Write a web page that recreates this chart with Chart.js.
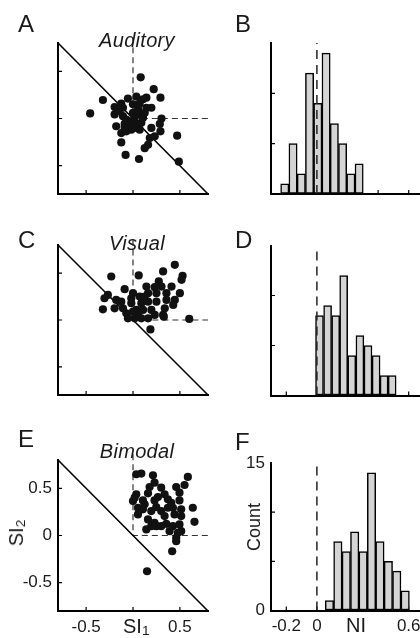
<!DOCTYPE html>
<html>
<head>
<meta charset="utf-8">
<script src="https://cdn.jsdelivr.net/npm/chart.js@4"></script>
<style>
  html, body { margin:0; padding:0; background:#fff; overflow:hidden; }
  #wrap { position:relative; width:420px; height:638px; overflow:hidden; background:#fff; }
  canvas { position:absolute; left:0; top:0; }
  .t { position:absolute; font-family:'Liberation Sans', Arial, sans-serif; color:#1a1a1a; line-height:1; white-space:nowrap; }
  .let { font-size:24px; }
  .ttl { font-size:20px; font-style:italic; width:160px; text-align:center; letter-spacing:0.3px; }
  .rot { transform:translate(-50%,-50%) rotate(-90deg); }
  .sb { font-size:0.68em; position:relative; top:0.12em; }
</style>
</head>
<body>
<div id="wrap">
  <canvas id="cA" width="430" height="638"></canvas>
  <canvas id="cB" width="430" height="638"></canvas>
  <canvas id="cC" width="430" height="638"></canvas>
  <canvas id="cD" width="430" height="638"></canvas>
  <canvas id="cE" width="430" height="638"></canvas>
  <canvas id="cF" width="430" height="638"></canvas>

  <div class="t let" style="left:18px;top:12px">A</div>
  <div class="t let" style="left:235px;top:12px">B</div>
  <div class="t let" style="left:18px;top:228px">C</div>
  <div class="t let" style="left:235px;top:228px">D</div>
  <div class="t let" style="left:18px;top:427px">E</div>
  <div class="t let" style="left:235px;top:430px">F</div>

  <div class="t ttl" style="left:57px;top:30px">Auditory</div>
  <div class="t ttl" style="left:57px;top:233px">Visual</div>
  <div class="t ttl" style="left:57px;top:441px">Bimodal</div>

  <div class="t" style="left:123px;top:616px;font-size:20px">SI<span class="sb">1</span></div>
  <div class="t rot" style="left:16px;top:533px;font-size:20px">SI<span class="sb">2</span></div>
  <div class="t rot" style="left:254px;top:527px;font-size:18px">Count</div>
  <div class="t" style="left:346px;top:615px;font-size:20px">NI</div>
</div>
<script>
// ---------- data ----------
const audSI1 = [0.082,0.221,0.293,-0.321,-0.457,-0.054,0.036,0.107,-0.125,-0.196,-0.107,0.071,0.143,0.196,-0.196,-0.107,0,0.071,0.304,0.286,-0.179,-0.089,-0.018,0.036,0.089,0.196,-0.125,-0.018,0.071,0.293,0.471,0.179,-0.125,0.161,0.125,-0.079,0.064,0.489,-0.036,0.018,-0.071,-0.143,0.054,0.018,0.107,0.143,-0.036,-0.071,0.125,0,0.232,-0.089];
const audSI2 = [0.436,0.311,0.221,0.196,0.054,0.211,0.232,0.204,0.157,0.121,0.114,0.157,0.114,0.114,0.043,0.025,0.061,0.043,0,-0.057,-0.082,-0.057,-0.029,-0.057,-0.046,-0.1,-0.154,-0.118,-0.118,-0.136,-0.182,-0.207,-0.254,-0.279,-0.314,-0.386,-0.429,-0.457,-0.082,-0.1,-0.136,0.079,0.096,0.007,0.007,0.221,-0.046,-0.011,0.061,0.15,-0.189,-0.1];

const visSI1 = [0.446,-0.232,0.061,0.321,0.529,0.518,0.275,0.304,0.411,-0.089,0.143,-0.268,-0.304,-0.179,-0.125,0,-0.018,0.071,0.161,0.25,0.357,0.5,0.446,0.357,0.25,0.161,0.089,-0.018,-0.321,-0.196,-0.071,0.036,0.107,0.196,0.339,0.321,0.232,-0.054,0.018,0.089,0.161,0.6,0.186,0.232,0.429,0.054,-0.107,0,0.125,0.329];
const visSI2 = [0.589,0.464,0.475,0.518,0.471,0.429,0.411,0.357,0.357,0.329,0.357,0.268,0.232,0.214,0.196,0.286,0.232,0.25,0.286,0.286,0.286,0.286,0.214,0.214,0.196,0.196,0.179,0.179,0.114,0.125,0.071,0.107,0.107,0.107,0.125,0.054,0.054,0.018,0.018,0.018,0.018,0.011,-0.1,0.35,0.161,0.054,0.125,0.089,0.25,0.036];

const bimSI1 = [0.035,0.089,0.213,0.585,0.230,0.55,0.177,0.301,0.461,0.035,0.160,0.337,0.496,0,0.106,0.230,0.372,0.496,0.053,0.248,0.372,0.514,0.638,0.053,0.443,0.514,0.160,0.230,0.355,0.656,0.142,0.248,0.301,0.426,0.496,0.514,0.461,0.461,0.418,0.150,0.301,0.337,0.195,0.124,0.426,0.195,0.390,0.106,0.018,0.479,0.266,0.408];
const bimSI2 = [0.649,0.656,0.638,0.621,0.560,0.535,0.514,0.507,0.514,0.436,0.447,0.436,0.454,0.365,0.372,0.372,0.383,0.372,0.294,0.301,0.294,0.277,0.294,0.223,0.223,0.206,0.170,0.135,0.124,0.145,0.064,0.099,0.099,0.099,0.117,0.046,-0.025,-0.06,-0.167,-0.379,0.259,0.206,0.259,0.330,0.294,0.099,0.046,0.277,0.401,0.028,0.408,0.347];

const audBins = [-0.21,-0.156,-0.102,-0.048,0.006,0.06,0.114,0.168,0.222,0.276];
const audCounts = [1,5,2,12,9,14,7,5,2,3];
const visBins = [0.017,0.07,0.123,0.175,0.228,0.281,0.334,0.387,0.439,0.492];
const visCounts = [8,9,8,12,4,6,5,4,2,2];
const bimBins = [0.082,0.137,0.192,0.247,0.302,0.357,0.412,0.467,0.522,0.577];
const bimCounts = [1,7,6,8,6,14,7,5,4,2];

const siTicks = [-0.5, 0, 0.5];
const siTickLabels = [-0.5, 0.5];
const niTicks = [-0.2, 0, 0.2, 0.4, 0.6];
const niTickLabels = [-0.2, 0, 0.6];
const countTicks = [5, 10];
const countTickLabels = [0, 15];

// ---------- helpers ----------
const FONT = "'Liberation Sans', Arial, sans-serif";
Chart.defaults.font.family = FONT;
Chart.defaults.color = '#1a1a1a';

const inTicks = {
  id: 'inTicks',
  beforeDatasetsDraw(chart, args, opts) {
    const {ctx, chartArea: a, scales: {x, y}} = chart;
    ctx.save();
    ctx.strokeStyle = '#000';
    ctx.lineWidth = opts.width || 1.2;
    ctx.beginPath();
    (opts.x || []).forEach(v => { const p = x.getPixelForValue(v); ctx.moveTo(p, a.bottom); ctx.lineTo(p, a.bottom - opts.len); });
    (opts.y || []).forEach(v => { const p = y.getPixelForValue(v); ctx.moveTo(a.left, p); ctx.lineTo(a.left + opts.len, p); });
    ctx.stroke();
    ctx.restore();
  }
};

// box = fixed size of the scale box (px), so the plot area lands where the figure has it
function axisBase(min, max, labels, isX, box, fontSize, pad) {
  return {
    type: 'linear', min, max, offset: false,
    grid: { display: true, drawOnChartArea: false, drawTicks: false },
    border: { display: true, color: '#000', width: 2 },
    ticks: { display: !!labels, font: { size: fontSize }, padding: pad, color: '#1a1a1a' },
    afterBuildTicks: s => { if (labels) s.ticks = labels.map(v => ({ value: v })); },
    afterFit: s => { if (isX) s.height = box; else s.width = box; }
  };
}

function scatterChart(id, xs, ys, area, showLabels) {
  const pts = xs.map((v, i) => ({ x: v, y: ys[i] }));
  return new Chart(document.getElementById(id), {
    type: 'scatter',
    data: { datasets: [
      { data: pts, pointRadius: 4.1, pointBackgroundColor: '#111', pointBorderWidth: 0, order: 0 },
      { type: 'line', data: [{x: 0, y: 0.86}, {x: 0, y: 0}, {x: 0.8, y: 0}], borderColor: '#333', borderWidth: 1.2,
        borderDash: [6, 4], pointRadius: 0, fill: false, clip: false, order: 2 },
      { type: 'line', data: [{x: -0.8, y: 0.8}, {x: 0.8, y: -0.8}], borderColor: '#000', borderWidth: 1.6,
        pointRadius: 0, fill: false, clip: false, order: 1 }
    ]},
    options: {
      responsive: false, animation: false, devicePixelRatio: 1, events: [],
      layout: { padding: { left: 0, bottom: 0, top: area.top, right: area.right } },
      plugins: { legend: { display: false }, tooltip: { enabled: false },
                 inTicks: { x: siTicks, y: siTicks, len: 4 } },
      scales: {
        x: axisBase(-0.8, 0.8, showLabels ? siTickLabels : null, true, area.bottom, 17, 6),
        y: axisBase(-0.8, 0.8, showLabels ? siTicks : null, false, area.left, 17, 6)
      }
    },
    plugins: [inTicks]
  });
}

function histChart(id, bins, counts, area, showLabels) {
  return new Chart(document.getElementById(id), {
    type: 'bar',
    data: { datasets: [
      { type: 'line', data: [{x: 0, y: 0}, {x: 0, y: 15}], borderColor: '#222', borderWidth: 1.5,
        borderDash: [9, 6], pointRadius: 0, fill: false, order: 0 },
      { type: 'bar', data: bins.map((c, i) => ({ x: c, y: counts[i] })), backgroundColor: '#d4d4d4',
        borderColor: '#000', borderWidth: 1.5, borderSkipped: false, barPercentage: 1, categoryPercentage: 1, order: 1 }
    ]},
    options: {
      responsive: false, animation: false, devicePixelRatio: 1, events: [],
      layout: { padding: { left: 0, bottom: 0, top: area.top, right: area.right } },
      plugins: { legend: { display: false }, tooltip: { enabled: false },
                 inTicks: { x: niTicks, y: countTicks, len: 4 } },
      scales: {
        x: axisBase(-0.3, 0.7, showLabels ? niTickLabels : null, true, area.bottom, 17, 6),
        y: axisBase(0, 15, showLabels ? countTickLabels : null, false, area.left, 17, 6)
      }
    },
    plugins: [inTicks]
  });
}

scatterChart('cA', audSI1, audSI2, { left: 58, top: 43, right: 222, bottom: 444 }, false);
scatterChart('cC', visSI1, visSI2, { left: 58, top: 245, right: 222, bottom: 243 }, false);
scatterChart('cE', bimSI1, bimSI2, { left: 58, top: 460, right: 222, bottom: 27 }, true);
histChart('cB', audBins, audCounts, { left: 271, top: 43, right: 6, bottom: 444 }, false);
histChart('cD', visBins, visCounts, { left: 271, top: 245.5, right: 6, bottom: 242.5 }, false);
histChart('cF', bimBins, bimCounts, { left: 271, top: 463, right: 6, bottom: 27.5 }, true);
</script>
</body>
</html>
